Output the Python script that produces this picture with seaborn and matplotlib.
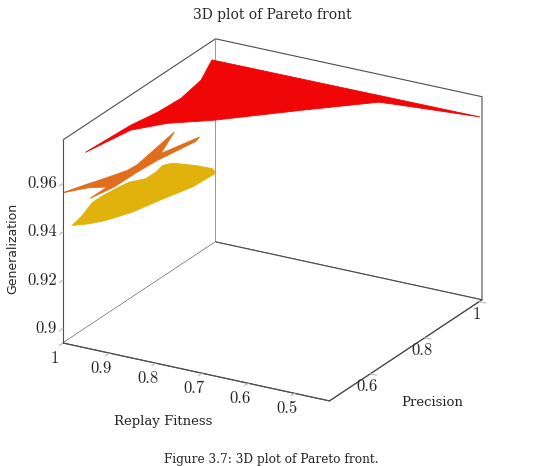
"""
3D plot of Pareto front (replay fitness / precision / generalization)
"""
import numpy as np
import matplotlib
matplotlib.use('Agg')
import matplotlib.pyplot as plt
import seaborn as sns
from mpl_toolkits.mplot3d import proj3d
from mpl_toolkits.mplot3d.art3d import Poly3DCollection

# ============================================================================
# DATA (outline of each front patch)
# ============================================================================
red_fitness = [1.000, 0.968, 0.956, 0.960, 0.972, 0.979, 0.960, 0.917,
               0.849, 0.732, 0.625, 0.583, 0.425]
red_precision = [0.995, 0.900, 0.806, 0.727, 0.648, 0.495, 0.628, 0.690,
                 0.745, 0.865, 0.970, 0.977, 1.000]
red_generalization = [0.9706] * 13

orange_fitness = [0.999, 0.983, 0.968, 0.950, 0.948, 0.968, 0.937, 0.915,
                  0.910, 0.926, 0.930, 0.931, 0.948, 0.942, 0.970, 0.999]
orange_precision = [0.452, 0.502, 0.544, 0.600, 0.633, 0.802, 0.700, 0.804,
                    0.783, 0.669, 0.602, 0.518, 0.460, 0.512, 0.493, 0.450]
orange_generalization = [0.9565, 0.9565, 0.9565, 0.9565, 0.9565, 0.9565,
                         0.9565, 0.9565, 0.9565, 0.9565, 0.9565, 0.9565,
                         0.9555, 0.9565, 0.9565, 0.9565]

yellow_fitness = [0.986, 0.963, 0.944, 0.921, 0.906, 0.885, 0.881, 0.897,
                  0.932, 0.976, 0.986, 0.981, 0.981, 1.000, 1.000, 1.000,
                  1.000, 1.000]
yellow_precision = [0.458, 0.480, 0.509, 0.568, 0.641, 0.727, 0.806, 0.822,
                    0.820, 0.809, 0.790, 0.756, 0.720, 0.690, 0.642, 0.593,
                    0.556, 0.519]
yellow_generalization = [0.9428] * 13 + [0.9428, 0.9437, 0.9444, 0.9444, 0.9418]

fitness_ticks = [1, 0.9, 0.8, 0.7, 0.6, 0.5]
fitness_labels = ['1', '0.9', '0.8', '0.7', '0.6', '0.5']
precision_ticks = [0.6, 0.8, 1]
precision_labels = ['0.6', '0.8', '1']
gen_ticks = [0.9, 0.92, 0.94, 0.96]
gen_labels = ['0.9', '0.92', '0.94', '0.96']

fitness_lim = (1.0, 0.425)   # fitness decreases to the right
precision_lim = (0.45, 1.01)
gen_lim = (0.894, 0.978)

# ============================================================================
# STYLE
# ============================================================================
sns.set_style('white')
plt.rcParams['font.family'] = ['cmr10', 'DejaVu Serif']
plt.rcParams['axes.formatter.use_mathtext'] = True

front_cmap = sns.blend_palette(['#e0b80a', '#e0701c', '#f00606'], as_cmap=True)
all_gen = red_generalization + orange_generalization + yellow_generalization
norm = plt.Normalize(min(all_gen), max(all_gen))

W, H = 540, 466
fig = plt.figure(figsize=(W / 100, H / 100), dpi=100)
ax = fig.add_axes([0, 0, 1, 1], projection='3d', proj_type='ortho')
ax.set_box_aspect((1, 1, 0.715), zoom=0.9)
ax.view_init(elev=22.3, azim=-60.2)


# fitness runs right-to-left: plot it negated so the z axis stays on the left
def fx(values):
    return [-v for v in values]


# ============================================================================
# SURFACES
# ============================================================================
for fit, prec, gen in [(red_fitness, red_precision, red_generalization),
                       (orange_fitness, orange_precision, orange_generalization),
                       (yellow_fitness, yellow_precision, yellow_generalization)]:
    color = front_cmap(norm(np.mean(gen)))
    poly = Poly3DCollection([list(zip(fx(fit), prec, gen))], facecolor=color,
                            edgecolor=color, linewidth=0.6)
    ax.add_collection3d(poly)

ax.set_xlim(*fx(fitness_lim))
ax.set_ylim(*precision_lim)
ax.set_zlim(*gen_lim)

# tick marks from the axes, labels placed by hand below (pgfplots style)
ax.set_xticks(fx(fitness_ticks), [''] * len(fitness_ticks))
ax.set_yticks(precision_ticks, [''] * len(precision_ticks))
ax.set_zticks(gen_ticks, [''] * len(gen_ticks))
ax.tick_params(color='0.72')
ax.zaxis.set_ticks_position('lower')
ax.grid(False)

for axis in (ax.xaxis, ax.yaxis, ax.zaxis):
    axis.set_pane_color((1, 1, 1, 1))
    axis.pane.set_edgecolor('0.3')
    axis.pane.set_linewidth(0.8)
    axis.pane.set_clip_on(False)
    axis.line.set_color('0.3')
    axis.line.set_linewidth(0.8)
    axis.line.set_clip_on(False)
    axis._axinfo['tick']['inward_factor'] = 0.3
    axis._axinfo['tick']['outward_factor'] = 0.0

# ============================================================================
# FIT THE BOX ONTO THE TARGET PIXELS
# ============================================================================
fig.canvas.draw()


def to_px(x, y, z):
    xs, ys, _ = proj3d.proj_transform(x, y, z, ax.get_proj())
    return ax.transData.transform((xs, ys))


xl, yl, zl = ax.get_xlim(), ax.get_ylim(), ax.get_zlim()
left = to_px(xl[0], yl[0], zl[0])
right = to_px(xl[1], yl[1], zl[0])
pos = ax.get_position()
ox, oy, side = pos.x0 * W, pos.y0 * H, pos.width * W
k = (482 - 63) / (right[0] - left[0])
new_side = side * k
new_ox = 63 - k * (left[0] - ox)
new_oy = (H - 343) - k * (left[1] - oy)
ax.set_position([new_ox / W, new_oy / H, new_side / W, new_side / H])
fig.canvas.draw()

# ============================================================================
# TICK LABELS
# ============================================================================
tick_font = dict(fontsize=12, family=['cmr10', 'DejaVu Serif'])

for t, lab in zip(fx(fitness_ticks), fitness_labels):
    px, py = to_px(t, yl[0], zl[0])
    fig.text((px - 8) / W, (py - 15) / H, lab, ha='center', va='center',
             **tick_font)

for t, lab in zip(precision_ticks, precision_labels):
    px, py = to_px(xl[1], t, zl[0])
    fig.text((px - 3) / W, (py - 13) / H, lab, ha='center', va='center',
             **tick_font)

for t, lab in zip(gen_ticks, gen_labels):
    px, py = to_px(xl[0], yl[0], t)
    fig.text((px - 6) / W, py / H, lab, ha='right', va='center', **tick_font)

# ============================================================================
# TEXT
# ============================================================================
serif = ['DejaVu Serif']
fig.text(272 / W, 1 - 15 / H, '3D plot of Pareto front', ha='center',
         va='center', fontsize=10, family=serif)
fig.text(163 / W, 1 - 422 / H, 'Replay Fitness', ha='center', va='center',
         fontsize=9.5, family=serif)
fig.text(432 / W, 1 - 403 / H, 'Precision', ha='center', va='center',
         fontsize=9.5, family=serif)
fig.text(13 / W, 1 - 248 / H, 'Generalization', ha='center', va='center',
         rotation=90, fontsize=9, family=['DejaVu Sans'])
fig.text(271 / W, 1 - 459 / H, 'Figure 3.7: 3D plot of Pareto front.',
         ha='center', va='center', fontsize=8.7, family=serif)

fig.savefig('out.png', dpi=100)
plt.close(fig)
print('saved out.png')
